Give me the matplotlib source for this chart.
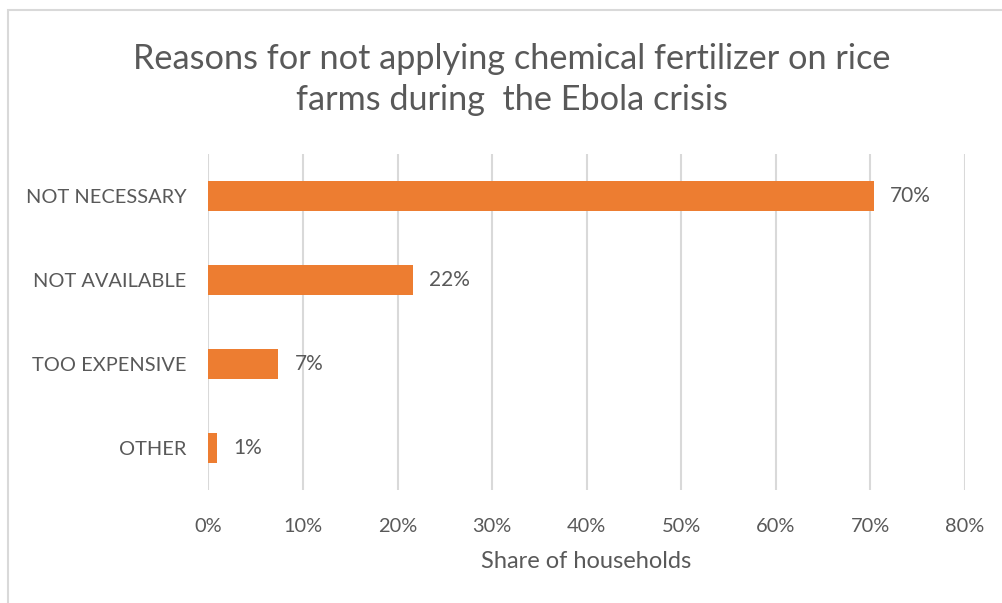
import matplotlib
matplotlib.use("Agg")
import matplotlib.pyplot as plt
from matplotlib.patches import Rectangle
from matplotlib.ticker import FuncFormatter

categories = ["NOT NECESSARY", "NOT AVAILABLE", "TOO EXPENSIVE", "OTHER"]
shares = [0.704, 0.216, 0.074, 0.009]
x_ticks = [0.0, 0.1, 0.2, 0.3, 0.4, 0.5, 0.6, 0.7, 0.8]

TEXT = "#595959"
GRID = "#D9D9D9"
BAR = "#ED7D31"

plt.rcParams["font.family"] = ["Lato", "DejaVu Sans"]

W, H = 1003, 603
fig = plt.figure(figsize=(W / 100, H / 100), dpi=100)

# chart frame (extends past the right and bottom edges)
fig.patches.append(Rectangle((8 / W, -0.1), 1.2, 1 - 10 / H + 0.1,
                             transform=fig.transFigure, fill=False,
                             edgecolor=GRID, linewidth=1.5, zorder=0))

left, right, top, bottom = 208.5, 964.5, 154, 490
ax = fig.add_axes([left / W, 1 - bottom / H, (right - left) / W, (bottom - top) / H])

y = list(range(len(categories)))
ax.barh(y, shares, height=0.36, color=BAR, zorder=3)
ax.set_ylim(len(categories) - 0.5, -0.5)
ax.set_xlim(0, 0.8)
ax.set_xticks(x_ticks)
ax.xaxis.set_major_formatter(FuncFormatter(lambda v, p: f"{v * 100:.0f}%"))
ax.set_yticks(y)
ax.set_yticklabels(categories)

ax.grid(axis="x", color=GRID, linewidth=1.5, zorder=0)
for s in ax.spines.values():
    s.set_visible(False)
ax.tick_params(axis="both", length=0, labelsize=14.4, labelcolor=TEXT)
ax.tick_params(axis="y", pad=16)
ax.tick_params(axis="x", pad=20)

for yi, v in zip(y, shares):
    ax.annotate(f"{v * 100:.0f}%", xy=(v, yi), xytext=(16, 0),
                textcoords="offset pixels",
                va="center", ha="left", fontsize=15, color=TEXT)

ax.set_xlabel("Share of households", fontsize=17, color=TEXT, labelpad=12)

fig.text(512 / W, 1 - 79.5 / H,
         "Reasons for not applying chemical fertilizer on rice\nfarms during  the Ebola crisis",
         ha="center", va="center", fontsize=24.7, color=TEXT, linespacing=1.36)

fig.savefig("out.png", dpi=100)
